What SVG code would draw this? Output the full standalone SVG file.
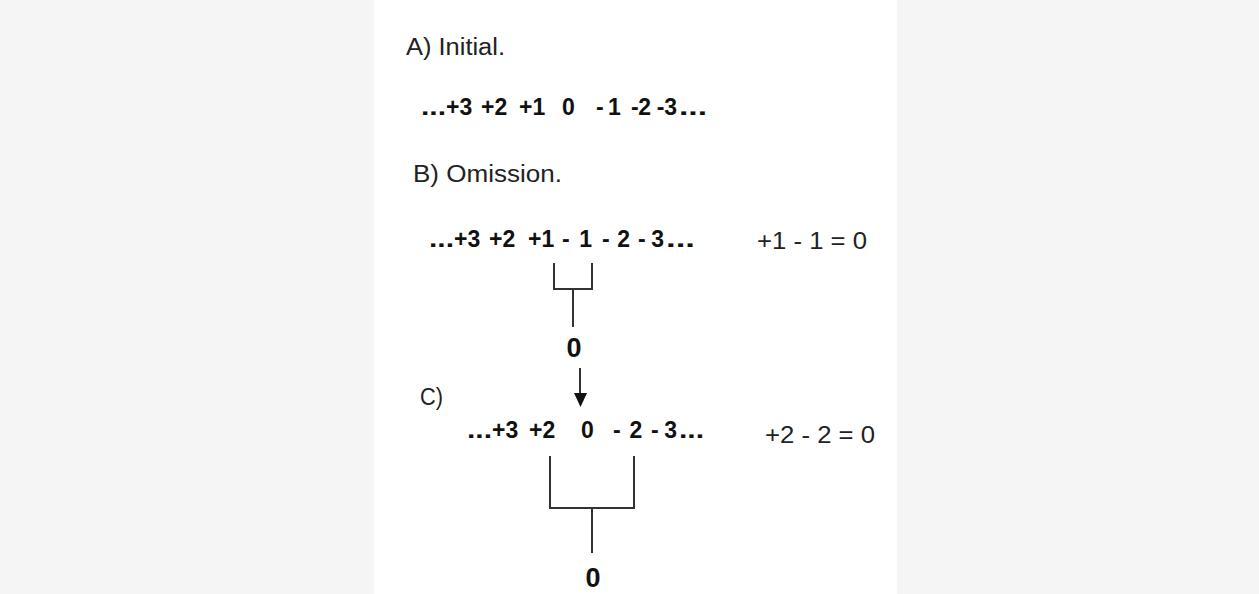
<svg xmlns="http://www.w3.org/2000/svg" width="1259" height="594" viewBox="0 0 1259 594">
<style>
.reg{font-family:"Liberation Sans",Arial,sans-serif;font-size:23px;fill:#222}
.num{font-family:"Liberation Sans",Arial,sans-serif;font-size:23px;font-weight:bold;fill:#111}
.zero{font-family:"Liberation Sans",Arial,sans-serif;font-size:27px;font-weight:bold;fill:#111;text-anchor:middle}
.br{fill:none;stroke:#333;stroke-width:2}
</style>
<rect width="1259" height="594" fill="#f5f5f5"/>
<rect x="374" y="0" width="523" height="594" fill="#ffffff"/>
<g id="labels">
<text class="reg" x="406" y="55" textLength="99" lengthAdjust="spacingAndGlyphs">A) Initial.</text>
<text class="reg" x="413" y="182" textLength="149" lengthAdjust="spacingAndGlyphs">B) Omission.</text>
<text class="reg" x="420" y="405" textLength="23" lengthAdjust="spacingAndGlyphs">C)</text>
</g>
<g id="rowA">
<text class="num" y="115"><tspan x="421" textLength="25" lengthAdjust="spacingAndGlyphs">...</tspan><tspan x="446">+3 </tspan><tspan x="481">+2 </tspan><tspan x="519">+1 </tspan><tspan x="562">0 </tspan><tspan x="596" textLength="30" lengthAdjust="spacing">- 1 </tspan><tspan x="631" textLength="46" lengthAdjust="spacing">-2 -3</tspan><tspan x="679" textLength="28" lengthAdjust="spacingAndGlyphs">...</tspan></text>
</g>
<g id="rowB">
<text class="num" y="247"><tspan x="429" textLength="25" lengthAdjust="spacingAndGlyphs">...</tspan><tspan x="454">+3 </tspan><tspan x="489">+2 </tspan><tspan x="528">+1 </tspan><tspan x="562" textLength="38" lengthAdjust="spacing">- 1 </tspan><tspan x="602" textLength="35" lengthAdjust="spacing">- 2 </tspan><tspan x="638" textLength="26" lengthAdjust="spacing">- 3</tspan><tspan x="666" textLength="29" lengthAdjust="spacingAndGlyphs">...</tspan></text>
<text class="reg" x="757" y="249" textLength="110" lengthAdjust="spacingAndGlyphs">+1 - 1 = 0</text>
</g>
<g id="rowC">
<text class="num" y="438"><tspan x="467" textLength="25" lengthAdjust="spacingAndGlyphs">...</tspan><tspan x="492">+3 </tspan><tspan x="529">+2 </tspan><tspan x="581">0 </tspan><tspan x="613" textLength="37" lengthAdjust="spacing">- 2 </tspan><tspan x="651" textLength="26" lengthAdjust="spacing">- 3</tspan><tspan x="679" textLength="25" lengthAdjust="spacingAndGlyphs">...</tspan></text>
<text class="reg" x="765" y="443" textLength="110" lengthAdjust="spacingAndGlyphs">+2 - 2 = 0</text>
</g>
<g id="zeroB"><text class="zero" x="574" y="357">0</text></g>
<g id="zeroC"><text class="zero" x="593" y="587">0</text></g>
<g id="connectors">
<path class="br" d="M554,263 V289 H592 V263"/>
<path class="br" d="M573,289 V327"/>
<path class="br" d="M550,456 V508 H634 V456"/>
<path class="br" d="M592,508 V553"/>
<line x1="580" y1="368" x2="580" y2="395" stroke="#333" stroke-width="2"/>
<polygon points="574,393 587,393 580.5,407" fill="#111"/>
</g>
</svg>
